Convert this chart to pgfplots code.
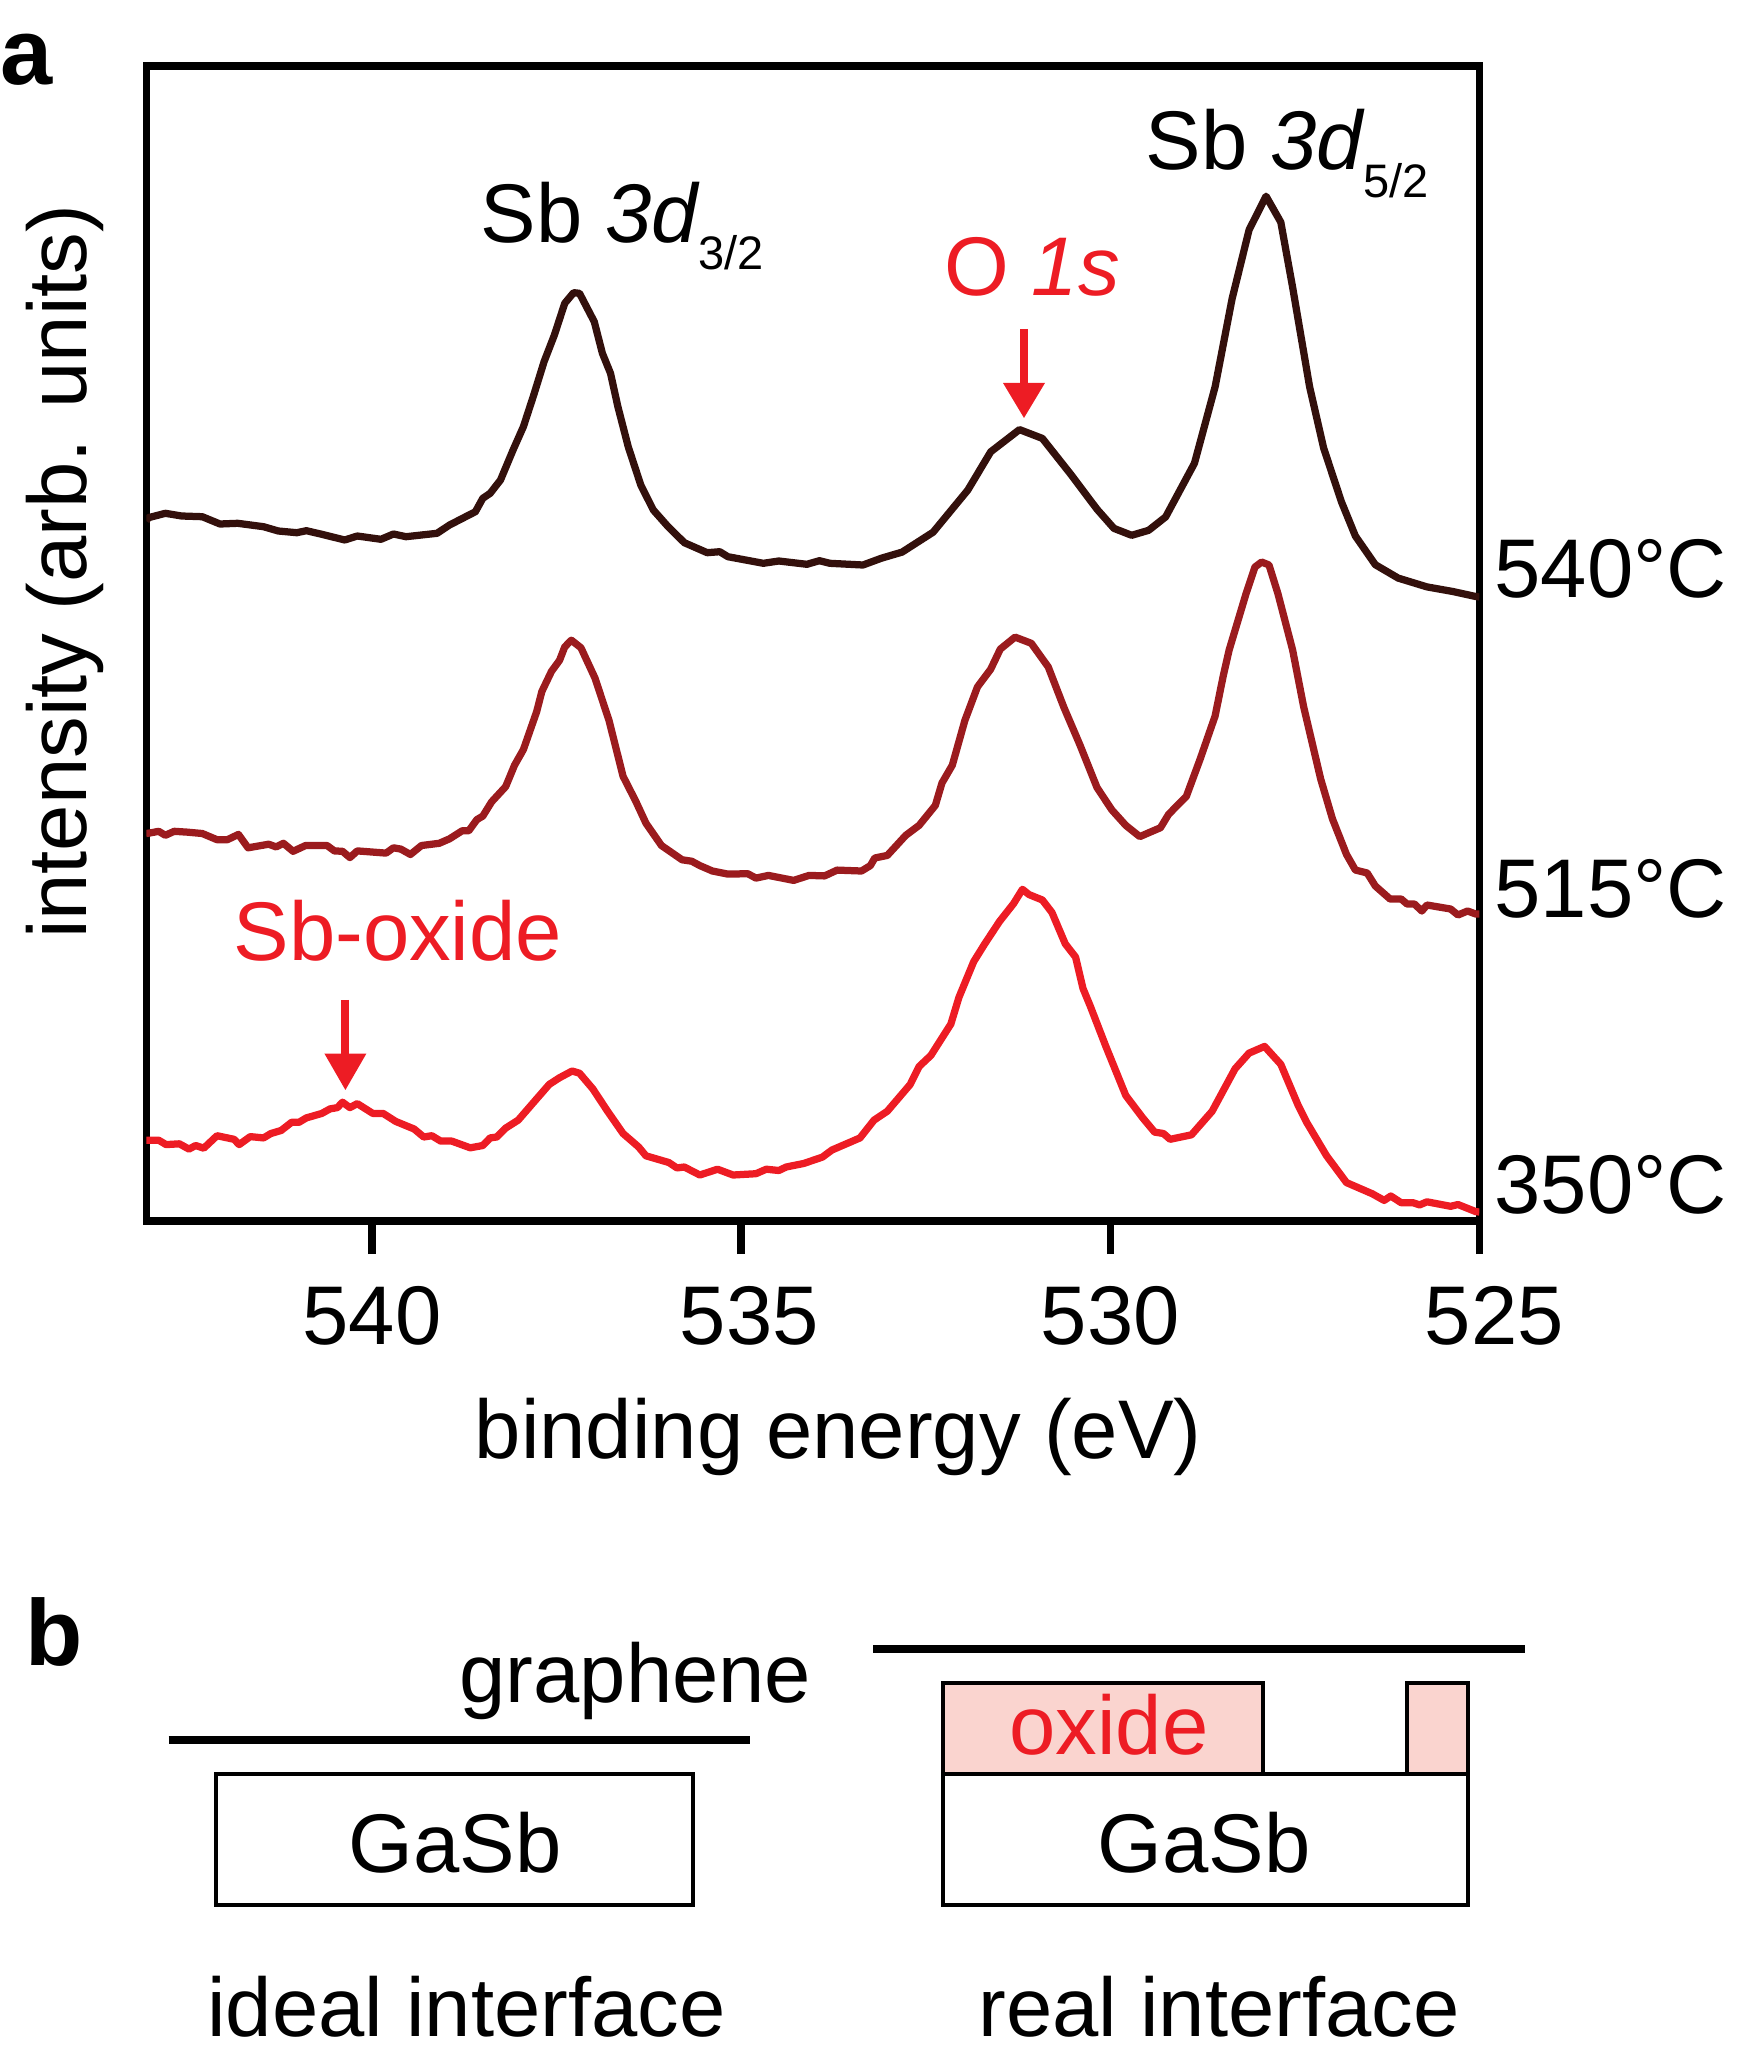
\documentclass[border=0pt]{standalone}
\usepackage{fontspec}
\setmainfont{Liberation Sans}
\usepackage{pgfplots}
\usepackage{pgfplotstable}
\pgfplotsset{compat=1.18}

\definecolor{hot}{HTML}{33100C}
\definecolor{mid}{HTML}{9B1B1E}
\definecolor{cool}{HTML}{ED1C24}
\definecolor{oxfill}{HTML}{FAD4CF}

\newcommand{\bigf}{\fontsize{33.3}{36}\selectfont}
\newcommand{\subf}{\fontsize{18.8}{20}\selectfont}
\newcommand{\panelf}{\fontsize{37.5}{44}\selectfont\bfseries}

% 540 C
\pgfplotstableread{
be I
543.06 700.0
543.03 703.3
542.80 707.7
542.58 705.0
542.30 704.3
542.06 697.0
541.82 697.7
541.47 694.3
541.27 690.0
541.02 688.3
540.89 690.3
540.68 686.7
540.37 681.0
540.20 685.0
539.88 681.7
539.71 687.0
539.54 684.3
539.12 687.7
538.95 696.0
538.60 709.3
538.50 722.7
538.40 727.7
538.26 741.0
538.09 771.0
537.95 794.3
537.81 826.0
537.67 859.3
537.53 886.0
537.39 917.7
537.27 928.3
537.19 927.7
536.99 899.3
536.88 867.7
536.77 847.7
536.67 814.3
536.53 774.3
536.36 736.0
536.19 711.0
536.01 696.0
535.77 678.3
535.46 668.3
535.29 669.3
535.18 664.3
534.70 657.7
534.49 660.0
534.11 656.7
533.94 660.3
533.80 657.7
533.35 656.0
533.10 662.8
532.82 668.9
532.40 688.8
531.93 730.9
531.62 769.2
531.23 791.4
530.92 782.6
530.53 746.2
530.18 711.8
529.95 692.6
529.71 685.7
529.48 690.7
529.25 704.1
528.86 757.7
528.58 834.2
528.35 922.2
528.12 991.1
527.89 1024.8
527.69 998.8
527.53 933.7
527.30 834.2
527.11 773.0
526.87 719.4
526.68 685.0
526.41 656.3
526.10 642.9
525.71 634.1
525.36 629.5
525.05 624.5
525.00 624.0
}\hot

% 515 C
\pgfplotstableread{
be I
543.06 387.5
543.01 388.0
542.89 389.7
542.80 385.7
542.68 389.7
542.51 388.9
542.30 387.5
542.10 381.3
541.96 381.3
541.81 386.6
541.68 373.2
541.40 376.8
541.30 374.1
541.20 377.7
541.07 369.7
540.90 375.5
540.61 375.5
540.51 370.1
540.40 369.7
540.30 363.4
540.20 370.1
539.81 367.9
539.71 373.2
539.61 371.9
539.48 366.5
539.33 375.5
539.09 377.7
538.95 382.2
538.78 390.2
538.69 390.2
538.58 401.4
538.50 404.9
538.38 419.2
538.19 434.4
538.07 455.8
537.95 471.4
537.77 509.4
537.70 529.5
537.57 549.6
537.46 560.7
537.39 574.1
537.30 580.8
537.17 573.2
536.98 542.9
536.79 500.5
536.60 444.7
536.43 420.1
536.29 397.8
536.08 375.5
535.80 361.2
535.67 359.8
535.56 355.4
535.39 350.0
535.18 346.9
534.91 347.3
534.80 342.9
534.63 345.6
534.29 340.6
534.08 345.6
533.87 345.1
533.70 350.9
533.37 350.0
533.25 355.4
533.19 363.0
533.02 365.6
532.77 385.7
532.59 395.6
532.37 415.6
532.28 438.0
532.14 455.8
531.97 500.5
531.80 534.0
531.62 551.8
531.49 571.9
531.29 583.9
531.07 577.7
530.84 554.0
530.63 513.9
530.41 475.9
530.18 433.5
529.98 411.2
529.79 395.6
529.60 384.4
529.32 393.3
529.21 406.7
528.97 424.6
528.78 462.5
528.58 505.0
528.47 545.1
528.39 571.0
528.16 627.6
528.04 654.0
527.95 659.0
527.85 656.0
527.73 627.6
527.53 571.0
527.38 514.0
527.15 442.0
526.99 402.0
526.80 366.5
526.68 351.0
526.52 348.0
526.41 335.0
526.21 322.0
526.06 322.0
525.98 317.0
525.88 317.0
525.78 310.0
525.71 316.0
525.39 312.0
525.29 306.0
525.16 310.0
525.05 307.0
525.00 307.0
}\midT

% 350 C
\pgfplotstableread{
be I
543.06 80.8
543.01 80.8
542.89 80.8
542.79 76.4
542.61 77.2
542.48 71.9
542.39 75.5
542.28 72.8
542.10 85.3
541.87 81.7
541.80 76.4
541.65 84.4
541.47 83.1
541.37 87.5
541.23 90.6
541.09 98.7
540.99 98.7
540.89 103.1
540.68 107.6
540.57 112.1
540.47 113.4
540.40 118.8
540.30 113.4
540.20 117.4
539.99 107.6
539.85 107.6
539.68 99.6
539.43 92.0
539.30 84.0
539.19 85.3
539.07 79.9
538.92 79.9
538.67 73.2
538.50 75.5
538.40 83.1
538.31 84.0
538.19 92.9
538.02 100.9
537.81 118.8
537.60 136.6
537.46 143.3
537.29 150.0
537.19 147.8
537.01 132.2
536.81 109.8
536.60 87.5
536.39 74.1
536.29 65.2
535.98 58.5
535.87 53.1
535.77 54.0
535.56 46.0
535.32 51.8
535.11 46.0
534.80 47.3
534.66 51.8
534.49 50.5
534.39 54.0
534.15 57.6
533.90 63.9
533.77 71.0
533.39 83.1
533.20 100.9
533.02 109.8
532.71 136.6
532.59 154.5
532.43 165.6
532.16 196.9
532.05 223.7
531.85 259.4
531.70 277.2
531.50 299.6
531.31 317.4
531.19 331.7
531.10 326.4
530.92 321.0
530.79 308.5
530.61 277.2
530.47 263.9
530.37 232.6
530.27 214.7
530.06 174.6
529.79 125.5
529.56 103.1
529.40 88.9
529.28 87.5
529.19 81.7
528.90 86.2
528.62 109.8
528.31 152.2
528.12 167.9
527.91 174.6
527.69 156.7
527.46 116.5
527.34 98.7
527.07 65.2
526.80 38.4
526.45 27.2
526.29 20.6
526.20 25.0
526.06 18.3
525.90 18.3
525.81 16.1
525.71 19.2
525.39 14.7
525.29 16.5
525.05 9.4
525.00 9.0
}\cool

\begin{document}
\begin{tikzpicture}
% page is 1750 x 2065 reference pixels, 1 px = 0.4pt
\path (0,0) rectangle (700pt,-826pt);

\begin{axis}[
  at={(58.56pt,-488.4pt)}, anchor=south west,
  scale only axis, width=533.2pt, height=462pt,
  x dir=reverse,
  xmin=525, xmax=543.057, ymin=0, ymax=1155,
  xtick={525,530,535,540}, ytick=\empty,
  % the labels of 525 and 535 sit a little right of their ticks in the original
  xticklabels={\hspace*{12pt}525,530,\hspace*{6.4pt}535,540},
  tick pos=lower, tick align=outside,
  major tick length=13.2pt,
  tick style={line width=3pt, black},
  axis line style={line width=3pt, black},
  tick label style={font=\bigf},
  xticklabel style={yshift=-9.6pt},
  xlabel={binding energy (eV)},
  xlabel style={font=\bigf, at={(axis description cs:0.519,-0.2052)}, anchor=base},
  ylabel={intensity (arb. units)},
  ylabel style={font=\bigf, at={(axis description cs:-0.0446,0.562)}, anchor=base},
]
\addplot[hot, line width=2.9pt, line join=round] table[x=be,y=I] {\hot};
\addplot[mid, line width=2.9pt, line join=round] table[x=be,y=I] {\midT};
\addplot[cool, line width=2.9pt, line join=round] table[x=be,y=I] {\cool};
\end{axis}

\begin{scope}[x=0.4pt,y=-0.4pt,every node/.style={inner sep=0pt,anchor=base west,font=\bigf}]
\node[font=\panelf] at (0,85) {a};
\node[font=\panelf] at (25,1666) {b};

\node at (480,243) {Sb \textit{3d}};
\node[font=\subf] at (698,270) {3/2};
\node at (1145,169.5) {Sb \textit{3d}};
\node[font=\subf] at (1363,198) {5/2};
\node[text=cool] at (943.5,296) {O \textit{1s}};
\node[text=cool] at (233,961) {Sb-oxide};

\node at (1494,598) {540°C};
\node at (1494,918) {515°C};
\node at (1494,1214) {350°C};

% arrows
\draw[cool,line width=3.2pt] (1024,329) -- (1024,385);
\fill[cool] (1003,383) -- (1045,383) -- (1024,418) -- cycle;
\draw[cool,line width=3.2pt] (345.4,1000) -- (345.4,1056);
\fill[cool] (324.4,1053.6) -- (366.4,1053.6) -- (345.4,1090) -- cycle;

% panel b, ideal
\node at (459,1703) {graphene};
\draw[line width=3.2pt] (168.5,1740) -- (750,1740);
\draw[line width=1.4pt] (216,1774) rectangle (693,1905);
\node[anchor=base] at (455,1873) {GaSb};
\node at (207,2037) {ideal interface};

% panel b, real
\draw[line width=3.2pt] (873,1648.7) -- (1524.5,1648.7);
\draw[line width=1.4pt,fill=oxfill] (943,1683) rectangle (1263,1774);
\draw[line width=1.4pt,fill=oxfill] (1407,1683) rectangle (1468,1774);
\draw[line width=1.4pt] (943,1774) rectangle (1468,1905);
\node[anchor=base,text=cool] at (1109,1755) {oxide};
\node[anchor=base] at (1204,1873) {GaSb};
\node at (978,2037) {real interface};
\end{scope}
\end{tikzpicture}
\end{document}
